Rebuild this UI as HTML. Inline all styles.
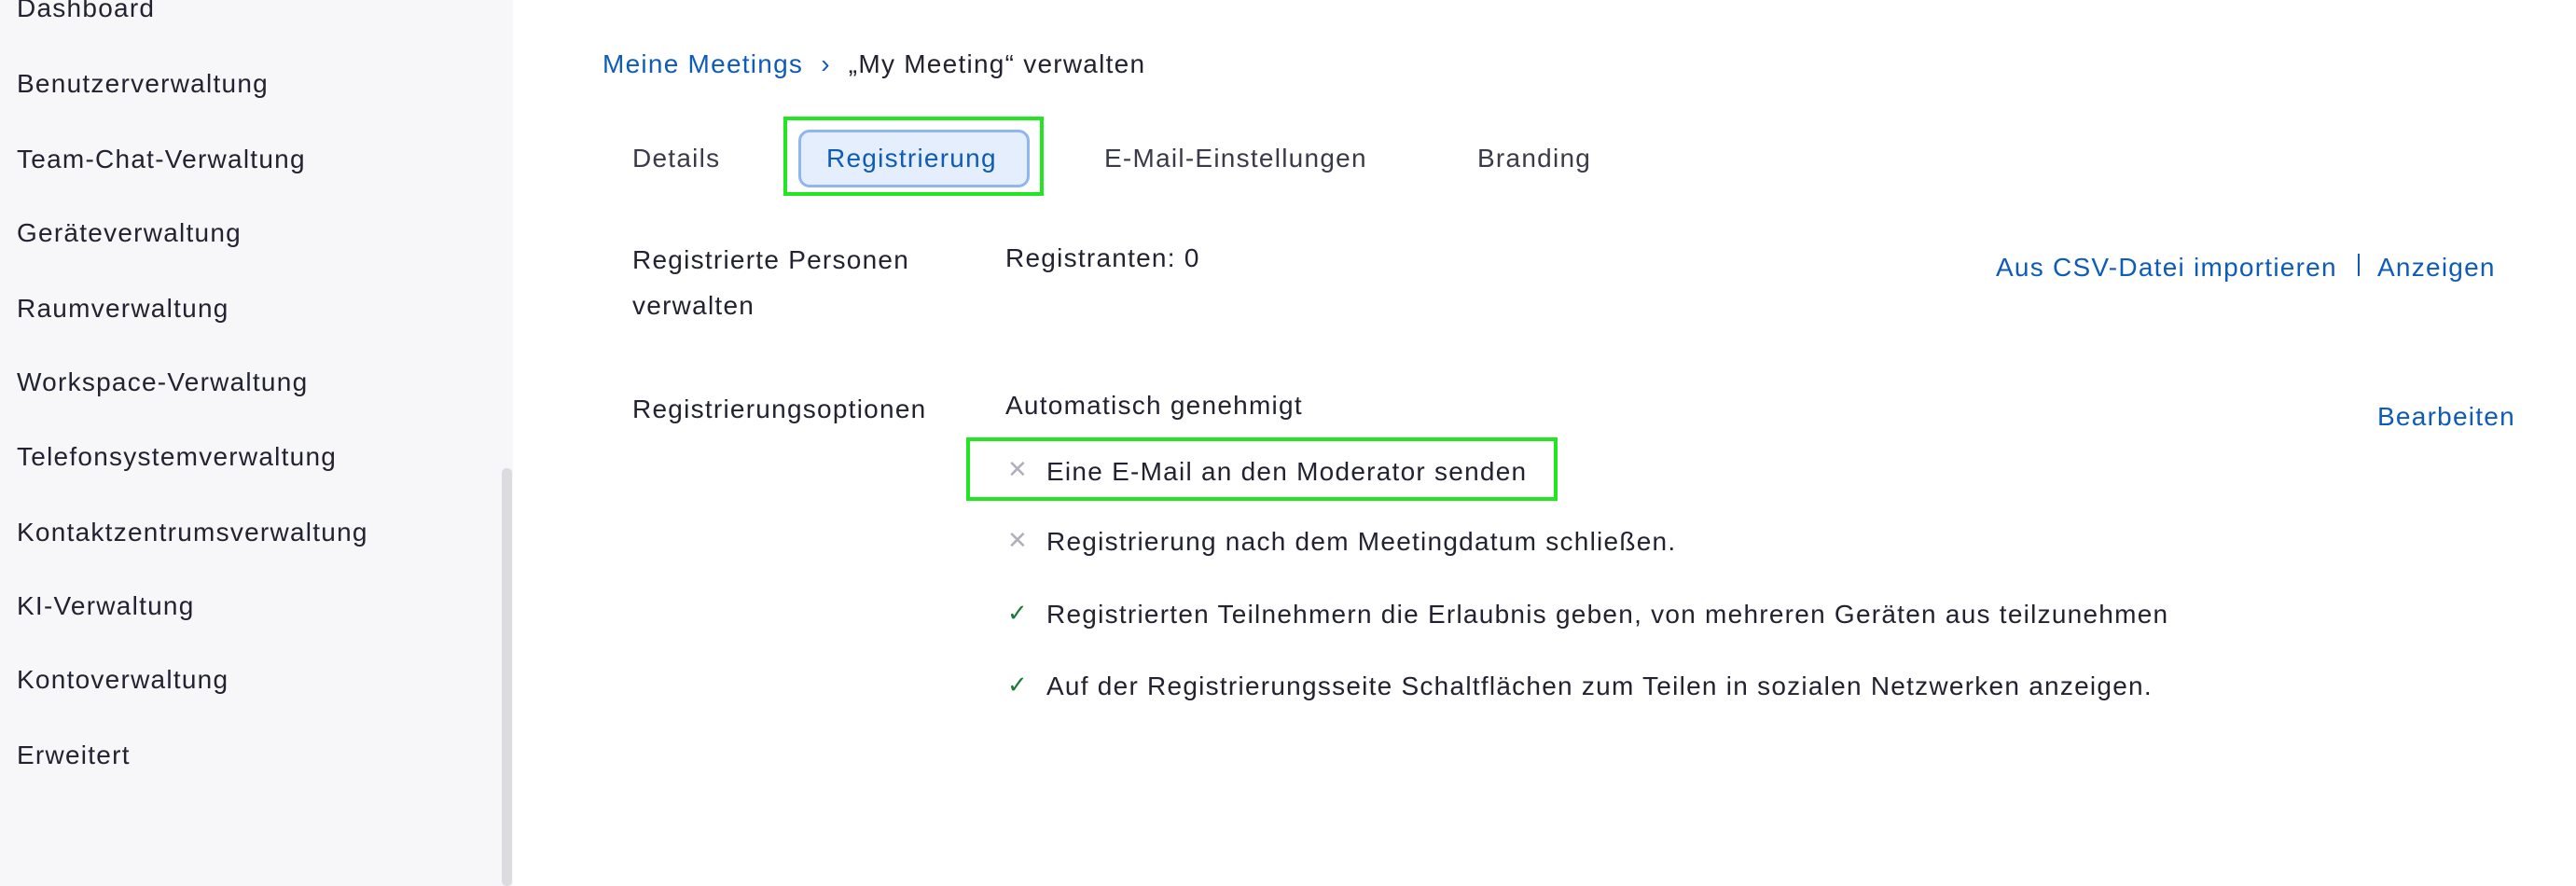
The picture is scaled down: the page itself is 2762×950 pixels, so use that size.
<!DOCTYPE html>
<html><head><meta charset="utf-8"><style>
body{margin:0;width:2762px;height:950px;background:#fff;font-family:"Liberation Sans",sans-serif;color:#222230;position:relative;overflow:hidden}
.sb{position:absolute;left:0;top:0;width:550px;height:950px;background:#f7f7fa}
.scr{position:absolute;left:538px;top:502px;width:11px;height:448px;background:#dcdce0;border-radius:5px}
.t{position:absolute;font-size:28px;white-space:nowrap;line-height:32px;transform:translateY(-16px);letter-spacing:1.25px}
.b{color:#0e5cb8}
.g{position:absolute;border:4px solid #22e622;box-sizing:border-box}
.pill{position:absolute;left:856px;top:139px;width:248px;height:62px;background:#e4eefc;border:3px solid #8fb6f2;border-radius:12px;box-sizing:border-box}
.ic{position:absolute;font-size:26px;transform:translateY(-16px)}
</style></head><body>
<div class="sb"></div><div class="scr"></div>
<div class="t" style="left:18px;top:9px">Dashboard</div>
<div class="t" style="left:18px;top:90px">Benutzerverwaltung</div>
<div class="t" style="left:18px;top:171px">Team-Chat-Verwaltung</div>
<div class="t" style="left:18px;top:250px">Geräteverwaltung</div>
<div class="t" style="left:18px;top:331px">Raumverwaltung</div>
<div class="t" style="left:18px;top:410px">Workspace-Verwaltung</div>
<div class="t" style="left:18px;top:490px">Telefonsystemverwaltung</div>
<div class="t" style="left:18px;top:571px">Kontaktzentrumsverwaltung</div>
<div class="t" style="left:18px;top:650px">KI-Verwaltung</div>
<div class="t" style="left:18px;top:729px">Kontoverwaltung</div>
<div class="t" style="left:18px;top:810px">Erweitert</div>

<div class="t b" style="left:646px;top:69px">Meine Meetings <span style="margin:0 10px">›</span> <span style="color:#222230">„My Meeting“ verwalten</span></div>

<div class="pill"></div>
<div class="g" style="left:840px;top:125px;width:279px;height:85px"></div>
<div class="t" style="left:678px;top:170px;color:#3a3a48">Details</div>
<div class="t b" style="left:886px;top:170px">Registrierung</div>
<div class="t" style="left:1184px;top:170px;color:#3a3a48">E-Mail-Einstellungen</div>
<div class="t" style="left:1584px;top:170px;color:#3a3a48">Branding</div>

<div class="t" style="left:678px;top:279px">Registrierte Personen</div>
<div class="t" style="left:678px;top:328px">verwalten</div>
<div class="t" style="left:1078px;top:277px">Registranten: 0</div>
<div class="t b" style="left:2140px;top:287px">Aus CSV-Datei importieren</div>
<div style="position:absolute;left:2528px;top:272px;width:2px;height:24px;background:#0e5cb8"></div>
<div class="t b" style="left:2549px;top:287px">Anzeigen</div>

<div class="t" style="left:678px;top:439px">Registrierungsoptionen</div>
<div class="t" style="left:1078px;top:435px">Automatisch genehmigt</div>
<div class="t b" style="left:2549px;top:447px">Bearbeiten</div>

<div class="g" style="left:1036px;top:469px;width:634px;height:68px"></div>
<div class="ic" style="left:1080px;top:504px;color:#b0b0bc">✕</div>
<div class="t" style="left:1122px;top:506px">Eine E-Mail an den Moderator senden</div>
<div class="ic" style="left:1080px;top:580px;color:#b0b0bc">✕</div>
<div class="t" style="left:1122px;top:581px">Registrierung nach dem Meetingdatum schließen.</div>
<div class="ic" style="left:1080px;top:658px;color:#1d7a3a">✓</div>
<div class="t" style="left:1122px;top:659px">Registrierten Teilnehmern die Erlaubnis geben, von mehreren Geräten aus teilzunehmen</div>
<div class="ic" style="left:1080px;top:735px;color:#1d7a3a">✓</div>
<div class="t" style="left:1122px;top:736px">Auf der Registrierungsseite Schaltflächen zum Teilen in sozialen Netzwerken anzeigen.</div>
</body></html>
